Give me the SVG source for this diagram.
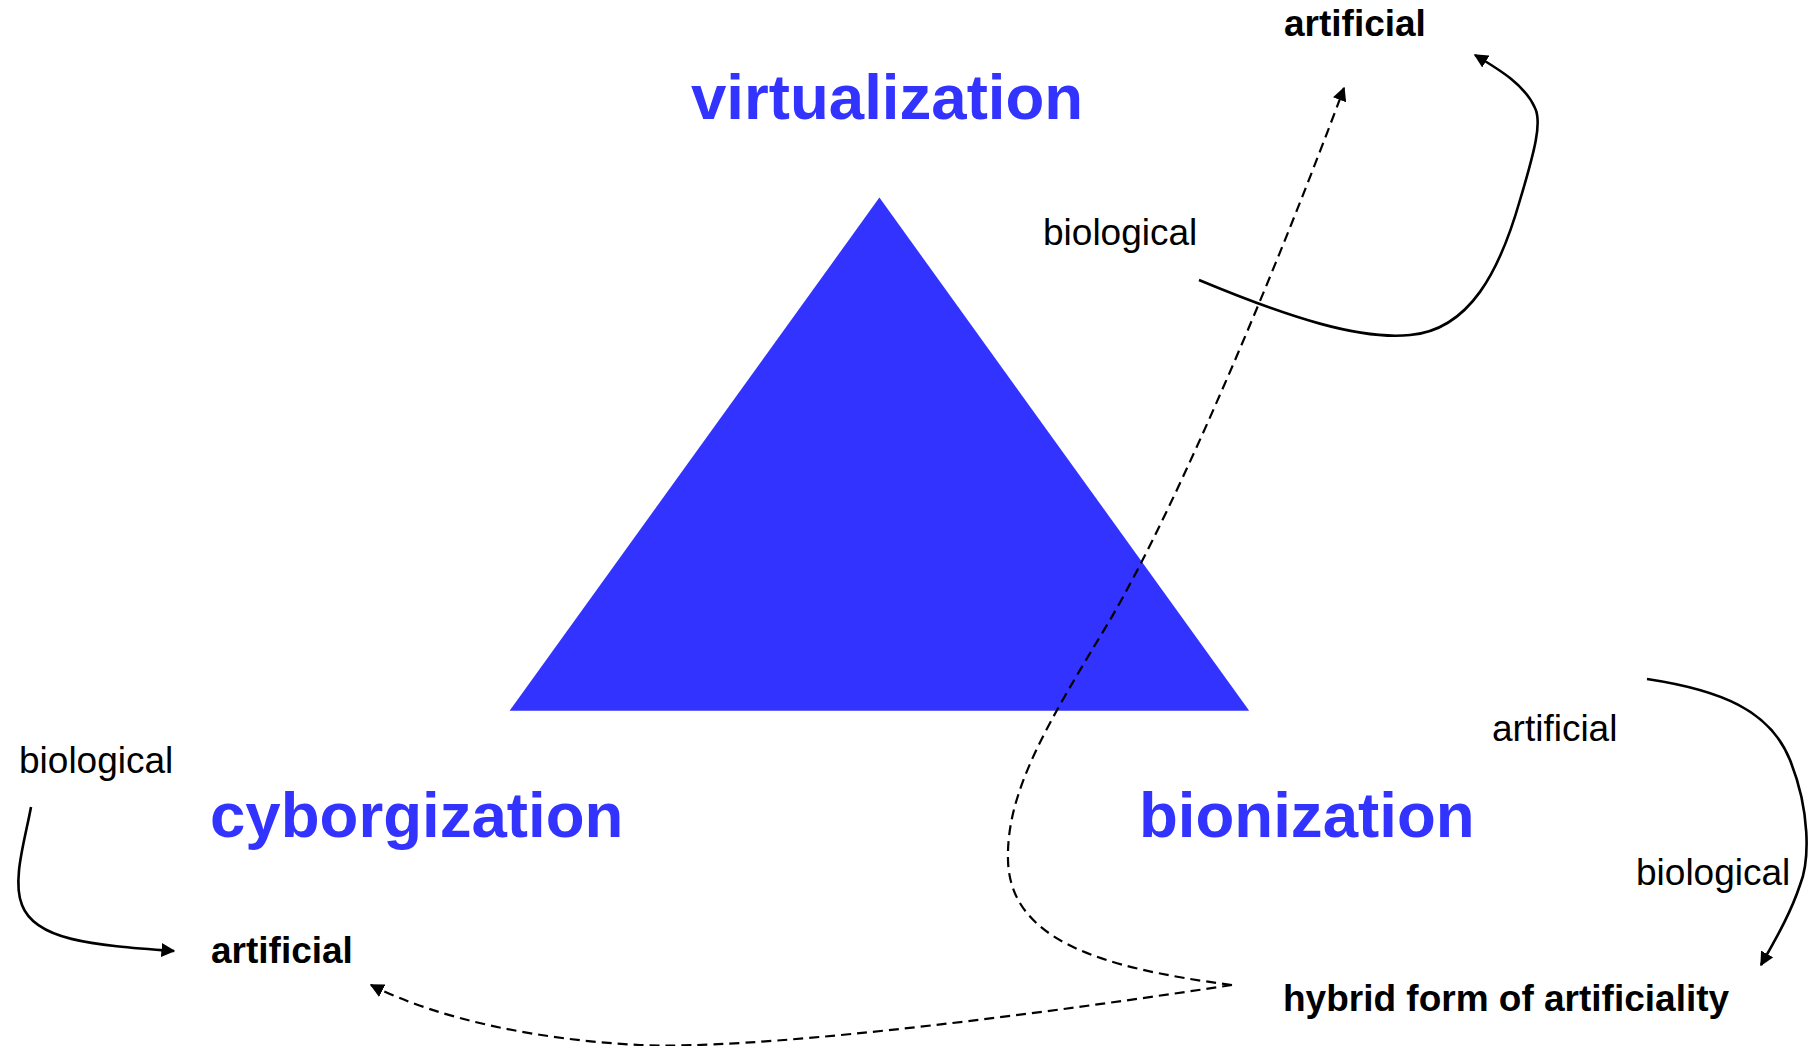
<svg xmlns="http://www.w3.org/2000/svg" width="1812" height="1046" viewBox="0 0 1812 1046">
<defs>
<style>
.big{font-family:"Liberation Sans",Arial,sans-serif;font-weight:bold;font-size:63.6px;fill:#3333FF}
.lb{font-family:"Liberation Sans",Arial,sans-serif;font-weight:bold;font-size:37px;fill:#000}
.lr{font-family:"Liberation Sans",Arial,sans-serif;font-size:37px;fill:#000}
.solid{fill:none;stroke:#000;stroke-width:2.6}
.dash{fill:none;stroke:#000;stroke-width:2.2;stroke-dasharray:10,6}
</style>
<marker id="ah" viewBox="0 0 10 10" refX="9" refY="5" markerWidth="14" markerHeight="14" markerUnits="userSpaceOnUse" orient="auto">
<path d="M0,0 L10,5 L0,10 z" fill="#000"/>
</marker>
</defs>
<rect width="1812" height="1046" fill="#fff"/>
<g id="triangle"><polygon points="879.4,197.6 509.6,710.7 1249.2,710.7" fill="#3333FF"/></g>
<g id="virtualization"><text class="big" x="691" y="119">virtualization</text></g>
<g id="cyborgization"><text class="big" x="210" y="837">cyborgization</text></g>
<g id="bionization"><text class="big" x="1139" y="837">bionization</text></g>
<g id="top-artificial"><text class="lb" x="1284" y="36">artificial</text></g>
<g id="top-biological"><text class="lr" x="1043" y="245">biological</text></g>
<g id="right-artificial"><text class="lr" x="1492" y="741">artificial</text></g>
<g id="right-biological"><text class="lr" x="1636" y="885">biological</text></g>
<g id="hybrid"><text class="lb" x="1283" y="1011">hybrid form of artificiality</text></g>
<g id="left-biological"><text class="lr" x="19" y="773">biological</text></g>
<g id="left-artificial"><text class="lb" x="211" y="963">artificial</text></g>
<g id="connectors">
<path class="solid" marker-end="url(#ah)" d="M1199,280 C1290,318 1360,340 1410,335 C1470,330 1500,270 1520,200 C1535,150 1542,122 1535,108 C1525,85 1500,70 1475,55"/>
<path class="dash" marker-end="url(#ah)" d="M1232,985 C1100,968 1010,940 1008,860 C1006,790 1050,720 1110,620 C1180,500 1280,260 1344,88"/>
<path class="dash" marker-end="url(#ah)" d="M1232,985 C1000,1020 750,1050 640,1045 C540,1040 440,1020 371,985"/>
<path class="solid" marker-end="url(#ah)" d="M1647,679 C1720,690 1770,710 1790,760 C1810,810 1810,860 1800,885 C1790,915 1775,940 1761,965"/>
<path class="solid" marker-end="url(#ah)" d="M31,807 C25,840 12,880 22,905 C35,940 90,945 174,951"/>
</g>
</svg>
